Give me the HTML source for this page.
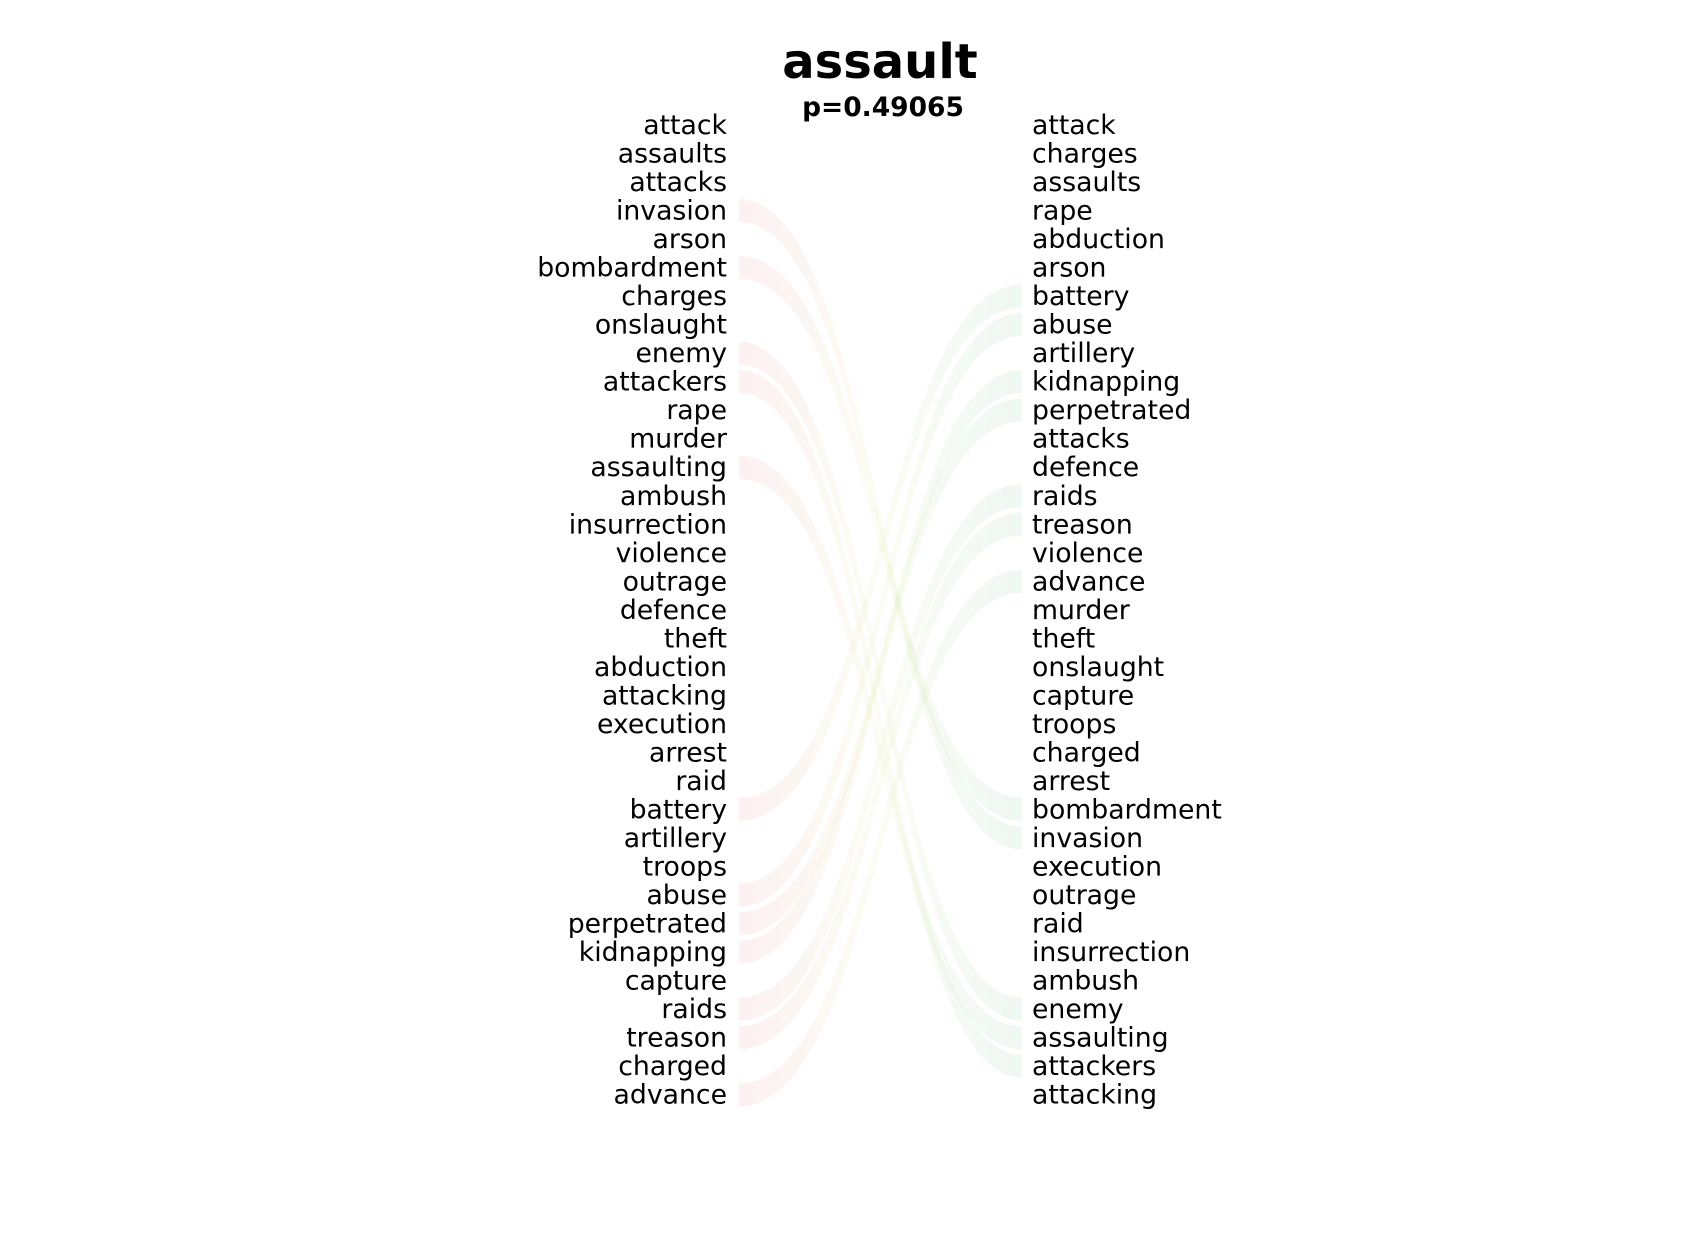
<!DOCTYPE html>
<html><head><meta charset="utf-8"><style>
html,body{margin:0;padding:0;background:#fff;}
svg text{font-family:"DejaVu Sans","Liberation Sans",sans-serif;fill:#000;}
</style></head><body>
<svg id="chart" width="1700" height="1246" viewBox="0 0 1700 1246" xmlns="http://www.w3.org/2000/svg">
<defs>
<linearGradient id="rg" x1="739" y1="0" x2="1022" y2="0" gradientUnits="userSpaceOnUse">
<stop offset="0" stop-color="rgb(225,60,60)"/>
<stop offset="0.5" stop-color="rgb(200,220,90)"/>
<stop offset="1" stop-color="rgb(40,150,100)"/>
</linearGradient>
</defs>
<text x="880" y="78" text-anchor="middle" font-size="48" font-weight="bold">assault</text>
<text x="883" y="116" text-anchor="middle" font-size="26.5" font-weight="bold">p=0.49065</text>
<g id="ribbons"></g>
<g id="left"></g>
<g id="right"></g>
</svg>
<script>
const leftWords = ["attack","assaults","attacks","invasion","arson","bombardment","charges","onslaught","enemy","attackers","rape","murder","assaulting","ambush","insurrection","violence","outrage","defence","theft","abduction","attacking","execution","arrest","raid","battery","artillery","troops","abuse","perpetrated","kidnapping","capture","raids","treason","charged","advance"];
const rightWords = ["attack","charges","assaults","rape","abduction","arson","battery","abuse","artillery","kidnapping","perpetrated","attacks","defence","raids","treason","violence","advance","murder","theft","onslaught","capture","troops","charged","arrest","bombardment","invasion","execution","outrage","raid","insurrection","ambush","enemy","assaulting","attackers","attacking"];
const minShift = 18;

const NS = "http://www.w3.org/2000/svg";
const y0 = 125, step = 28.52, xL = 739, xR = 1022, halfH = 11.5;
function yPos(i){ return y0 + i*step; }
const left = document.getElementById('left'), right = document.getElementById('right'), rib = document.getElementById('ribbons');
leftWords.forEach((w,i)=>{
  const t = document.createElementNS(NS,'text');
  
  
  t.setAttribute('x', 727); t.setAttribute('y', yPos(i)+9);
  t.setAttribute('text-anchor','end'); t.setAttribute('font-size','26.7');
  t.textContent = w; left.appendChild(t);
  const j = rightWords.indexOf(w);
  if (j >= 0 && Math.abs(j-i) >= minShift) {
    const a = yPos(i), b = yPos(j), xm = (xL+xR)/2;
    const d = `M${xL},${a-halfH} C${xm},${a-halfH} ${xm},${b-halfH} ${xR},${b-halfH} L${xR},${b+halfH} C${xm},${b+halfH} ${xm},${a+halfH} ${xL},${a+halfH} Z`;
    const p = document.createElementNS(NS,'path');
    
    
    p.setAttribute('d', d); p.setAttribute('fill','url(#rg)'); p.setAttribute('fill-opacity','0.07');
    rib.appendChild(p);
  }
});
rightWords.forEach((w,i)=>{
  const t = document.createElementNS(NS,'text');
  
  
  t.setAttribute('x', 1032); t.setAttribute('y', yPos(i)+9);
  t.setAttribute('font-size','26.7');
  t.textContent = w; right.appendChild(t);
});
</script>
</body></html>
